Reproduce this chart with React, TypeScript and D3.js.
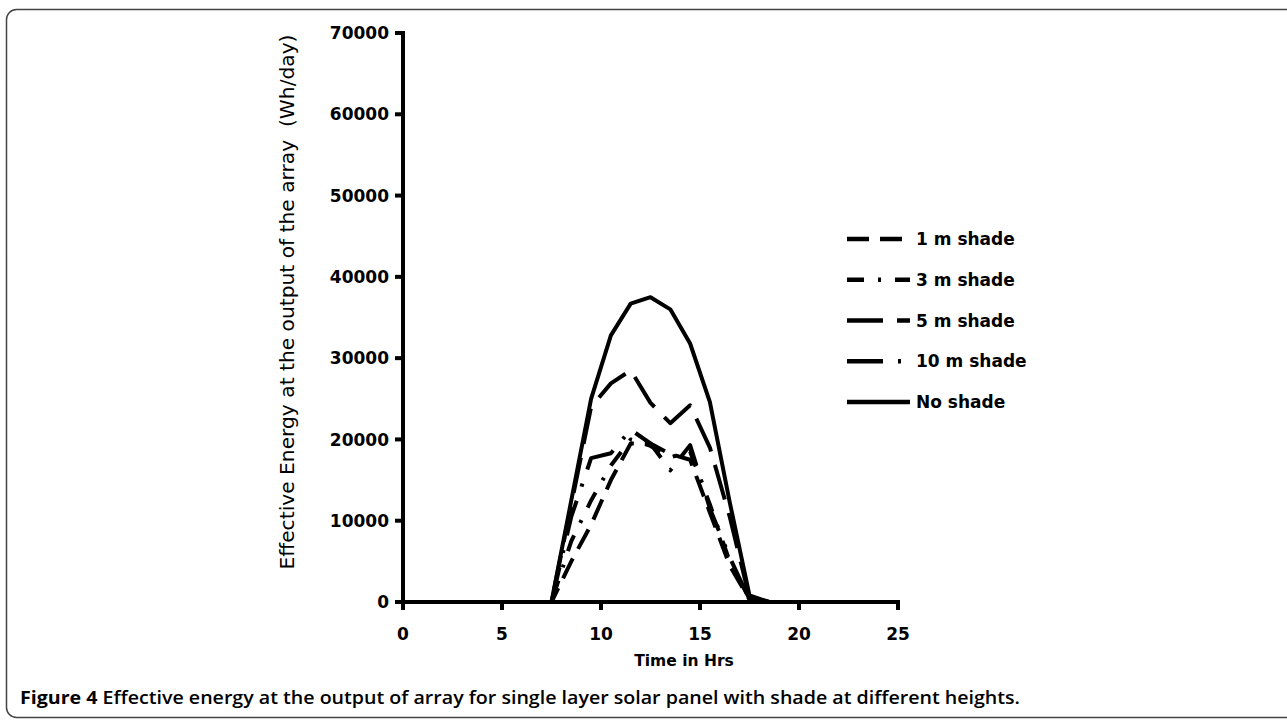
import * as d3 from "d3";

// hours (half-hour centred readings)
const hours = [
  0.5, 1.5, 2.5, 3.5, 4.5, 5.5, 6.5, 7.5, 8.5, 9.5, 10.5, 11.5,
  12.5, 13.5, 14.5, 15.5, 16.5, 17.5, 18.5, 19.5, 20.5, 21.5, 22.5, 23.5,
];

const shade1m = [0, 0, 0, 0, 0, 0, 0, 0, 5000, 9500, 15000, 19500, 19500, 18200, 17500, 11000, 4500, 300, 0, 0, 0, 0, 0, 0];
const shade3m = [0, 0, 0, 0, 0, 0, 0, 0, 7500, 12500, 16800, 20000, 19200, 17800, 18500, 12000, 5000, 400, 0, 0, 0, 0, 0, 0];
const shade5m = [0, 0, 0, 0, 0, 0, 0, 0, 12000, 24000, 26900, 28500, 24500, 22000, 24200, 19000, 10500, 500, 0, 0, 0, 0, 0, 0];
const shade10m = [0, 0, 0, 0, 0, 0, 0, 0, 10500, 17700, 18300, 21200, 19500, 16200, 19300, 11500, 5500, 300, 0, 0, 0, 0, 0, 0];
const noShade = [0, 0, 0, 0, 0, 0, 0, 0, 12500, 25000, 32800, 36700, 37500, 36000, 31800, 24600, 12300, 800, 0, 0, 0, 0, 0, 0];

const seriesNames = ["1 m shade", "3 m shade", "5 m shade", "10 m shade", "No shade"];
const seriesValues = [shade1m, shade3m, shade5m, shade10m, noShade];
const dashes = ["22,11", "17,14,3,14", "36,14", "36,15,3,15", ""];

const xTicks = [0, 5, 10, 15, 20, 25];
const yTicks = [0, 10000, 20000, 30000, 40000, 50000, 60000, 70000];

const W = 1287;
const H = 725;

const App = () => {
  const x = d3.scaleLinear().domain([0, 25]).range([403, 898]);
  const y = d3.scaleLinear().domain([0, 70000]).range([602, 33]);

  const line = d3
    .line<number>()
    .x((_, i) => x(hours[i]))
    .y((d) => y(d));

  const legendY = d3.scalePoint<string>().domain(seriesNames).range([239, 402]);

  return (
    <svg
      width={W}
      height={H}
      style={{ position: "absolute", left: 0, top: 0, display: "block", background: "#fff" }}
    >
      {/* frame */}
      <rect x={6.5} y={9.5} width={1300} height={708} rx={10} fill="none" stroke="#444" strokeWidth={1.5} />

      {/* series */}
      {seriesValues.map((vals, i) => (
        <path
          key={seriesNames[i]}
          d={line(vals) || ""}
          fill="none"
          stroke="#000"
          strokeWidth={4}
          strokeDasharray={dashes[i] || undefined}
          strokeLinejoin="round"
        />
      ))}

      {/* y axis */}
      <line x1={x(0)} x2={x(0)} y1={y(70000) - 2} y2={y(0) + 2} stroke="#000" strokeWidth={4} />
      {yTicks.map((t) => (
        <g key={t}>
          <line x1={x(0) - 8} x2={x(0)} y1={y(t)} y2={y(t)} stroke="#000" strokeWidth={4} />
          <text
            x={389}
            y={y(t)}
            dy="0.36em"
            textAnchor="end"
            fontFamily="DejaVu Sans"
            fontWeight="bold"
            fontSize={17}
            fill="#000"
          >
            {t}
          </text>
        </g>
      ))}

      {/* x axis */}
      <line x1={x(0) - 2} x2={x(25) + 2} y1={y(0)} y2={y(0)} stroke="#000" strokeWidth={4} />
      {xTicks.map((t) => (
        <g key={t}>
          <line x1={x(t)} x2={x(t)} y1={y(0)} y2={y(0) + 8} stroke="#000" strokeWidth={4} />
          <text
            x={x(t)}
            y={640}
            textAnchor="middle"
            fontFamily="DejaVu Sans"
            fontWeight="bold"
            fontSize={17}
            fill="#000"
          >
            {t}
          </text>
        </g>
      ))}

      {/* axis titles */}
      <text
        transform="translate(294,302) rotate(-90)"
        textAnchor="middle"
        fontFamily="DejaVu Sans"
        fontSize={19}
        textLength={535}
        lengthAdjust="spacingAndGlyphs"
        fill="#000"
        style={{ whiteSpace: "pre" }}
      >
        {"Effective Energy at the output of the array  (Wh/day)"}
      </text>
      <text x={684} y={666} textAnchor="middle" fontFamily="DejaVu Sans" fontWeight="bold" fontSize={15.5} fill="#000">
        Time in Hrs
      </text>

      {/* legend */}
      {seriesNames.map((name, i) => (
        <g key={name} transform={`translate(0,${legendY(name)})`}>
          <line
            x1={847}
            x2={910}
            y1={0}
            y2={0}
            stroke="#000"
            strokeWidth={4.5}
            strokeDasharray={dashes[i] || undefined}
          />
          <text x={916} y={0} dy="0.36em" fontFamily="DejaVu Sans" fontWeight="bold" fontSize={17} fill="#000">
            {name}
          </text>
        </g>
      ))}

      {/* caption */}
      <text
        x={20}
        y={704}
        fontFamily="Open Sans"
        fontSize={18}
        fill="#000"
        textLength={1000}
        lengthAdjust="spacingAndGlyphs"
      >
        <tspan fontWeight="bold">Figure 4</tspan>
        <tspan fontWeight={600}> Effective energy at the output of array for single layer solar panel with shade at different heights.</tspan>
      </text>
    </svg>
  );
};

export default App;
